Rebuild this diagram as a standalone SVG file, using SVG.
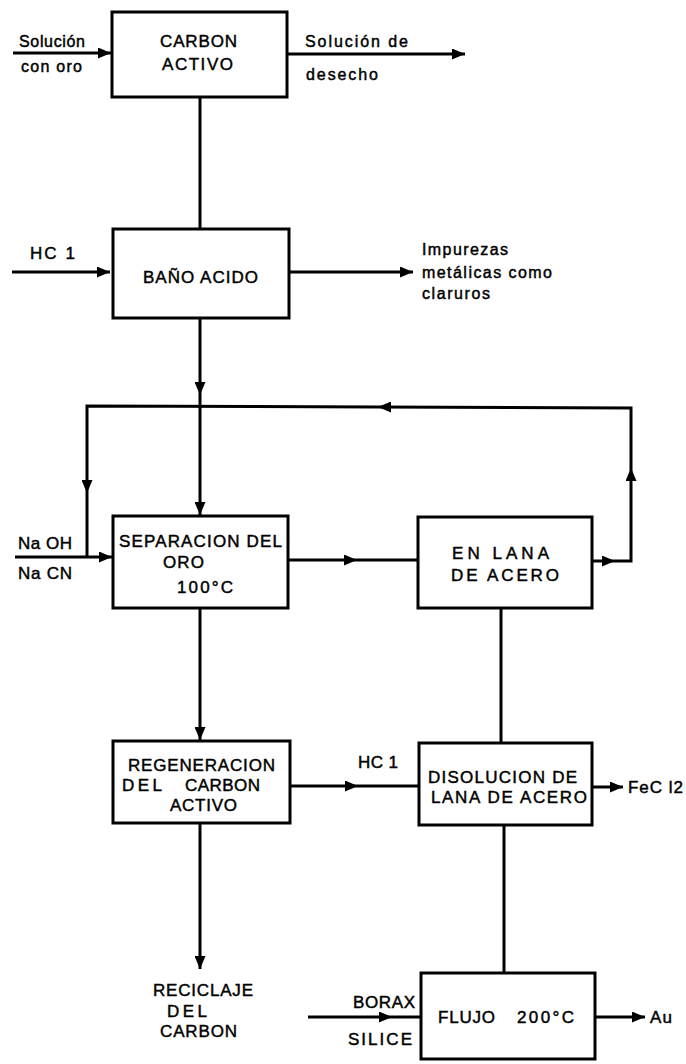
<svg xmlns="http://www.w3.org/2000/svg" width="686" height="1064" viewBox="0 0 686 1064">
<defs>
<marker id="ah" markerUnits="userSpaceOnUse" markerWidth="13" markerHeight="11" refX="13" refY="5.5" orient="auto">
<path d="M0,0 L13,5.5 L0,11 z" fill="#000"/>
</marker>
<style>
.box{fill:#fff;stroke:#000;stroke-width:3}
.ln{fill:none;stroke:#000;stroke-width:3}
.t{font-family:"Liberation Sans",Arial,sans-serif;font-size:17px;fill:#000;stroke:#000;stroke-width:0.45}
.s{font-family:"Liberation Sans",Arial,sans-serif;font-size:16px;fill:#000;stroke:#000;stroke-width:0.45}
</style>
</defs>
<rect width="686" height="1064" fill="#fff"/>
<g id="connectors">
<path class="ln" d="M13,53 L111,53" marker-end="url(#ah)"/>
<path class="ln" d="M287,54 L465,54" marker-end="url(#ah)"/>
<path class="ln" d="M200,97 L200,229"/>
<path class="ln" d="M12,272 L110,272" marker-end="url(#ah)"/>
<path class="ln" d="M289,272 L413,272" marker-end="url(#ah)"/>
<path class="ln" d="M200,318 L200,395" marker-end="url(#ah)"/>
<path class="ln" d="M200,395 L200,515" marker-end="url(#ah)"/>
<path class="ln" d="M592,561 L615,561" marker-end="url(#ah)"/>
<path class="ln" d="M615,561 L631,561 L631,468" marker-end="url(#ah)"/>
<path class="ln" d="M631,468 L631,408 L378,407" marker-end="url(#ah)"/>
<path class="ln" d="M378,407 L87,406 L87,493" marker-end="url(#ah)"/>
<path class="ln" d="M87,493 L87,557"/>
<path class="ln" d="M15,557 L112,557" marker-end="url(#ah)"/>
<path class="ln" d="M288,560 L357,560" marker-end="url(#ah)"/>
<path class="ln" d="M357,560 L418,560"/>
<path class="ln" d="M200,608 L200,740" marker-end="url(#ah)"/>
<path class="ln" d="M501,608 L501,743"/>
<path class="ln" d="M290,786 L358,786" marker-end="url(#ah)"/>
<path class="ln" d="M358,786 L419,786"/>
<path class="ln" d="M592,787 L623,787" marker-end="url(#ah)"/>
<path class="ln" d="M504,825 L504,973"/>
<path class="ln" d="M200,823 L200,969" marker-end="url(#ah)"/>
<path class="ln" d="M308,1017 L392,1017" marker-end="url(#ah)"/>
<path class="ln" d="M392,1017 L421,1017"/>
<path class="ln" d="M595,1017 L645,1017" marker-end="url(#ah)"/>
</g>
<g id="carbon-activo">
<rect class="box" x="112" y="12" width="175" height="85"/>
<text class="t" x="160" y="47" textLength="77" lengthAdjust="spacing">CARBON</text>
<text class="t" x="162" y="70" textLength="71" lengthAdjust="spacing">ACTIVO</text>
</g>
<g id="lbl-solucion-oro">
<text class="s" x="19" y="47" textLength="66" lengthAdjust="spacing">Solución</text>
<text class="s" x="21" y="72" textLength="61" lengthAdjust="spacing">con oro</text>
</g>
<g id="lbl-desecho">
<text class="s" x="305" y="47" textLength="103" lengthAdjust="spacing">Solución de</text>
<text class="s" x="306" y="80" textLength="72" lengthAdjust="spacing">desecho</text>
</g>
<g id="bano-acido">
<rect class="box" x="113" y="229" width="176" height="89"/>
<text class="t" x="143" y="283" textLength="115" lengthAdjust="spacing">BAÑO ACIDO</text>
</g>
<g id="lbl-hcl-1">
<text class="t" x="30" y="259" textLength="45" lengthAdjust="spacing">HC 1</text>
</g>
<g id="lbl-impurezas">
<text class="s" x="422" y="255" textLength="86" lengthAdjust="spacing">Impurezas</text>
<text class="s" x="422" y="278" textLength="130" lengthAdjust="spacing">metálicas como</text>
<text class="s" x="422" y="299" textLength="68" lengthAdjust="spacing">claruros</text>
</g>
<g id="separacion">
<rect class="box" x="113" y="516" width="175" height="92"/>
<text class="t" x="119" y="547" textLength="163" lengthAdjust="spacing">SEPARACION DEL</text>
<text class="t" x="163" y="568" textLength="41" lengthAdjust="spacing">ORO</text>
<text class="t" x="177" y="593" textLength="56" lengthAdjust="spacing">100°C</text>
</g>
<g id="lbl-naoh">
<text class="t" x="18" y="549" textLength="54" lengthAdjust="spacing">Na OH</text>
<text class="t" x="18" y="579" textLength="54" lengthAdjust="spacing">Na CN</text>
</g>
<g id="en-lana">
<rect class="box" x="418" y="517" width="174" height="91"/>
<text class="t" x="452" y="559" textLength="97" lengthAdjust="spacing">EN LANA</text>
<text class="t" x="451" y="581" textLength="108" lengthAdjust="spacing">DE ACERO</text>
</g>
<g id="regeneracion">
<rect class="box" x="113" y="741" width="177" height="82"/>
<text class="t" x="128" y="771" textLength="147" lengthAdjust="spacing">REGENERACION</text>
<text class="t" x="122" y="791" textLength="40" lengthAdjust="spacing">DEL</text>
<text class="t" x="185" y="791" textLength="75" lengthAdjust="spacing">CARBON</text>
<text class="t" x="170" y="811" textLength="67" lengthAdjust="spacing">ACTIVO</text>
</g>
<g id="lbl-hcl-2">
<text class="t" x="358" y="768" textLength="40" lengthAdjust="spacing">HC 1</text>
</g>
<g id="disolucion">
<rect class="box" x="419" y="743" width="173" height="82"/>
<text class="t" x="428" y="783" textLength="149" lengthAdjust="spacing">DISOLUCION DE</text>
<text class="t" x="431" y="803" textLength="156" lengthAdjust="spacing">LANA DE ACERO</text>
</g>
<g id="lbl-fecl2">
<text class="t" x="628" y="793" textLength="55" lengthAdjust="spacing">FeC l2</text>
</g>
<g id="reciclaje">
<text class="t" x="153" y="996" textLength="100" lengthAdjust="spacing">RECICLAJE</text>
<text class="t" x="167" y="1017" textLength="40" lengthAdjust="spacing">DEL</text>
<text class="t" x="160" y="1037" textLength="77" lengthAdjust="spacing">CARBON</text>
</g>
<g id="flujo">
<rect class="box" x="421" y="973" width="174" height="86"/>
<text class="t" x="438" y="1023" textLength="57" lengthAdjust="spacing">FLUJO</text>
<text class="t" x="517" y="1023" textLength="57" lengthAdjust="spacing">200°C</text>
</g>
<g id="lbl-borax">
<text class="t" x="353" y="1008" textLength="62" lengthAdjust="spacing">BORAX</text>
<text class="t" x="348" y="1045" textLength="64" lengthAdjust="spacing">SILICE</text>
</g>
<g id="lbl-au">
<text class="t" x="650" y="1023" textLength="22" lengthAdjust="spacing">Au</text>
</g>
</svg>
